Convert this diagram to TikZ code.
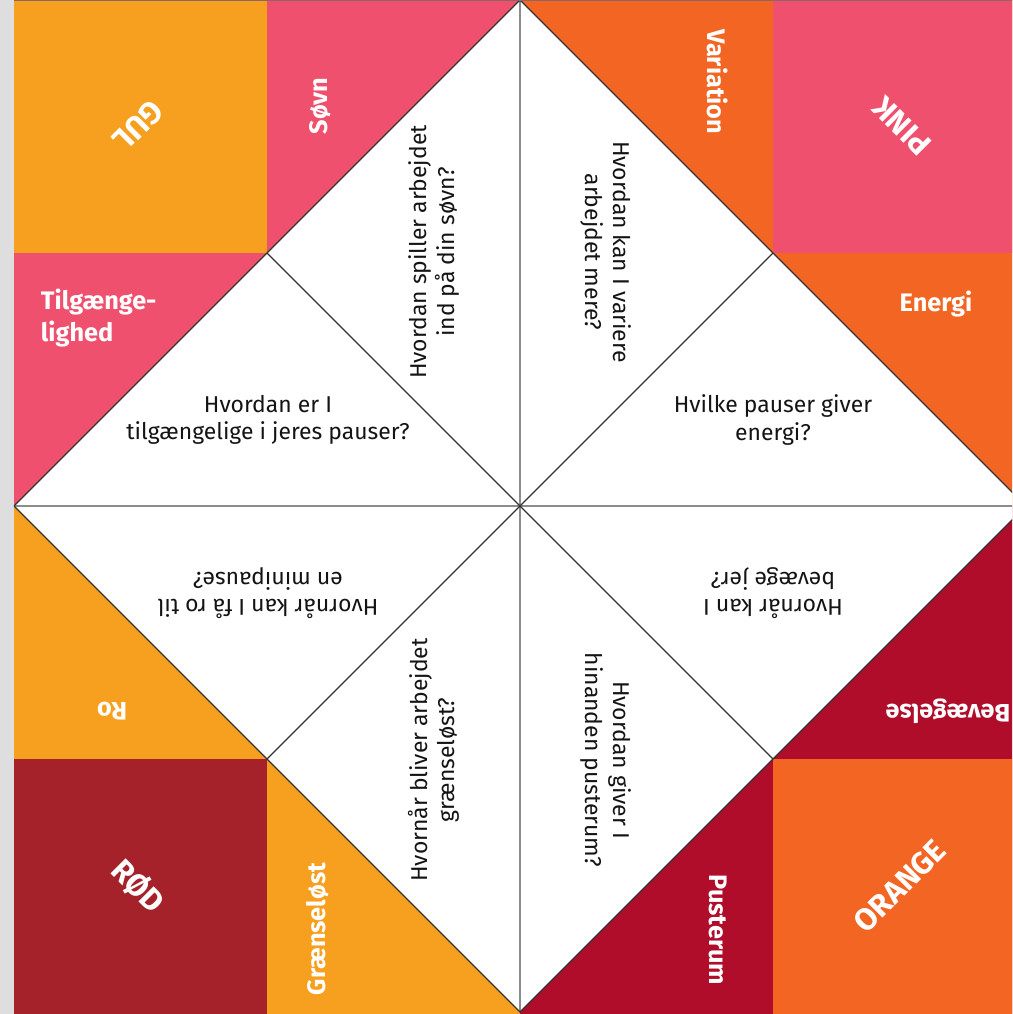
\documentclass[tikz,border=0pt]{standalone}
\usepackage{fontspec}
\setmainfont{Fira Sans}
\usetikzlibrary{calc}

\definecolor{kgul}{HTML}{F7A01F}
\definecolor{kpink}{HTML}{EF506D}
\definecolor{korange}{HTML}{F26522}
\definecolor{krod}{HTML}{A6222A}
\definecolor{kbord}{HTML}{B00D2B}

\begin{document}
\begin{tikzpicture}[scale= 1.0,
    felt/.style={text=white, font=\fontsize{18}{22.5}\selectfont\bfseries},
    hjorne/.style={text=white, font=\fontsize{22}{26}\selectfont\bfseries},
    spm/.style={align=center, text=black!92, font=\fontsize{16.3}{19.5}\selectfont}]
  \useasboundingbox (-13,-12.7) rectangle (12.3,12.65);
  \fill [black!13] (-13,-12.7) rectangle (-12.65,12.65); % graa kant
  \clip (-12.65,-12.7) rectangle (12.3,12.65);
  % kvadranter
  \fill [kpink] (-12.65,0) rectangle (0,12.65);
  \fill [korange] (0,0) rectangle (12.65,12.65);
  \fill [kgul] (-12.65,-12.7) rectangle (0,0);
  \fill [kbord] (0,-12.7) rectangle (12.65,0);
  % hjoerner
  \fill [kgul] (-12.65,6.325) rectangle (-6.325,12.65);
  \fill [kpink] (6.325,6.325) rectangle (12.65,12.65);
  \fill [krod] (-12.65,-12.7) rectangle (-6.325,-6.325);
  \fill [korange] (6.325,-12.7) rectangle (12.65,-6.325);
  % diamant
  \fill [white] (0,12.65) -- (12.65,0) -- (0,-12.65) -- (-12.65,0) -- cycle;
  \draw [black!45, line width=1.4pt] (-12.65,0) -- (12.65,0); % vandret
  \draw [black!45, line width=1.4pt] (0,-12.65) -- (0,12.65); % lodret
  \draw [black!80, line width=0.8pt] (0,12.65) -- (12.65,0) -- (0,-12.65) -- (-12.65,0) -- cycle;
  \draw [black!80, line width=0.8pt] (-6.325,6.325) -- (6.325,-6.325);
  \draw [black!80, line width=0.8pt] (6.325,6.325) -- (-6.325,-6.325);
  \draw [black!75!red!60, line width=1.5pt] (-12.65,12.65) -- (12.65,12.65); % kant foroven
  % farver
  \node [hjorne, rotate=225] (gul) at (-9.55,9.5) {GUL};
  \node [hjorne, rotate=135] (pink) at (9.55,9.5) {PINK};
  \node [hjorne, rotate=-45] (rod) at (-9.55,-9.5) {RØD};
  \node [hjorne, rotate=45] (orange) at (9.5,-9.5) {ORANGE};
  % emner
  \node [felt, rotate=90] (sovn) at (-5.0,10.0) {Søvn};
  \node [felt, rotate=-90] (variation) at (4.95,10.6) {Variation};
  \node [felt, anchor=west, align=left] (tilg) at (-12.1,4.7) {Tilgænge-\\lighed};
  \node [felt] (energi) at (10.4,5.05) {Energi};
  \node [felt, rotate=180] (ro) at (-10.2,-5.125) {Ro};
  \node [felt, rotate=180] (bev) at (10.7,-5.125) {Bevægelse};
  \node [felt, rotate=90] (graens) at (-5.05,-10.575) {Grænseløst};
  \node [felt, rotate=-90] (puster) at (4.95,-10.6) {Pusterum};
  % spoergsmaal
  \node [spm, rotate=90] (q1) at (-2.15,6.35) {Hvordan spiller arbejdet\\ind på din søvn?};
  \node [spm, rotate=-90] (q2) at (2.15,6.35) {Hvordan kan I variere\\arbejdet mere?};
  \node [spm] (q3) at (-6.3,2.15) {Hvordan er I\\tilgængelige i jeres pauser?};
  \node [spm] (q4) at (6.325,2.15) {Hvilke pauser giver\\energi?};
  \node [spm, rotate=180] (q5) at (-6.3,-2.175) {Hvornår kan I få ro til\\en minipause?};
  \node [spm, rotate=180] (q6) at (6.325,-2.175) {Hvornår kan I\\bevæge jer?};
  \node [spm, rotate=90] (q7) at (-2.15,-6.35) {Hvornår bliver arbejdet\\grænseløst?};
  \node [spm, rotate=-90] (q8) at (2.15,-6.35) {Hvordan giver I\\hinanden pusterum?};
\end{tikzpicture}
\end{document}
